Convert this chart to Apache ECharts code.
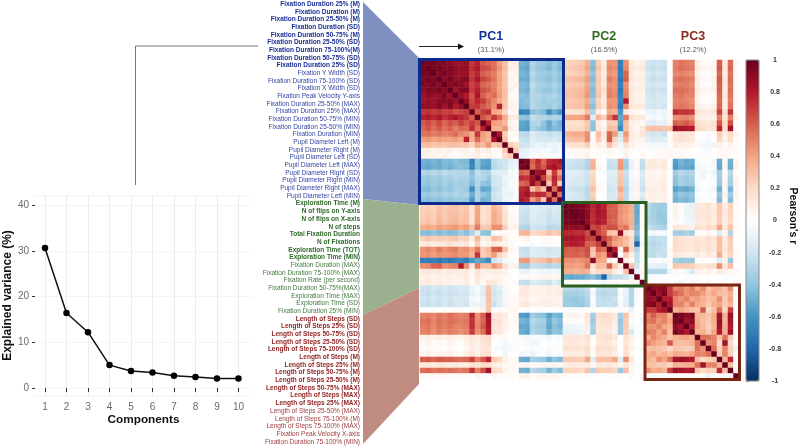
<!DOCTYPE html>
<html>
<head>
<meta charset="utf-8">
<title>PCA loadings</title>
<script src="https://cdn.jsdelivr.net/npm/echarts@6/dist/echarts.min.js"></script>
<style>
html, body { margin: 0; background: #fff; }
#chart { width: 800px; height: 446px; }
</style>
</head>
<body>
<div id="chart"></div>
<script>
const components = [1, 2, 3, 4, 5, 6, 7, 8, 9, 10]
const explained = [30.6, 16.4, 12.2, 5, 3.7, 3.4, 2.7, 2.4, 2.1, 2.1]
const varianceTicks = [0, 10, 20, 30, 40]
const varianceMinor = [5, 15, 25, 35]
const colorbarStops = ['#053061', '#2166AC', '#4393C3', '#92C5DE', '#D1E5F0', '#FFFFFF', '#FDDBC7', '#F4A582', '#D6604D', '#B2182B', '#67001F']

const pc1Labels = [
  'Fixation Duration 25% (M)', 'Fixation Duration (M)', 'Fixation Duration 25-50% (M)', 'Fixation Duration (SD)',
  'Fixation Duration 50-75% (M)', 'Fixation Duration 25-50% (SD)', 'Fixation Duration 75-100%(M)',
  'Fixation Duration 50-75% (SD)', 'Fixation Duration 25% (SD)', 'Fixation Y Width (SD)',
  'Fixation Duration 75-100% (SD)', 'Fixation X Width (SD)', 'Fixation Peak Velocity Y-axis',
  'Fixation Duration 25-50% (MAX)', 'Fixation Duration 25% (MAX)', 'Fixation Duration 50-75% (MIN)',
  'Fixation Duration 25-50% (MIN)', 'Fixation Duration (MIN)', 'Pupil Diameter Left (M)', 'Pupil Diameter Right (M)',
  'Pupil Diameter Left (SD)', 'Pupil Diameter Left (MAX)', 'Pupil Diameter Right (SD)', 'Pupil Diameter Right (MIN)',
  'Pupil Diameter Right (MAX)', 'Pupil Diameter Left (MIN)'
]
const pc2Labels = [
  'Exploration Time (M)', 'N of flips on Y-axis', 'N of flips on X-axis', 'N of steps', 'Total Fixation Duration',
  'N of Fixations', 'Exploration Time (TOT)', 'Exploration Time (MIN)', 'Fixation Duration (MAX)',
  'Fixation Duration 75-100% (MAX)', 'Fixation Rate (per second)', 'Fixation Duration 50-75%(MAX)',
  'Exploration Time (MAX)', 'Exploration Time (SD)', 'Fixation Duration 25% (MIN)'
]
const pc3Labels = [
  'Length of Steps (SD)', 'Length of Steps 25% (SD)', 'Length of Steps 50-75% (SD)', 'Length of Steps 25-50% (SD)',
  'Length of Steps 75-100% (SD)', 'Length of Steps (M)', 'Length of Steps 25% (M)', 'Length of Steps 50-75% (M)',
  'Length of Steps 25-50% (M)', 'Length of Steps 50-75% (MAX)', 'Length of Steps (MAX)', 'Length of Steps 25% (MAX)',
  'Length of Steps 25-50% (MAX)', 'Length of Steps 75-100% (M)', 'Length of Steps 75-100% (MAX)',
  'Fixation Peak Velocity X-axis', 'Fixation Duration 75-100% (MIN)'
]
const boldCounts = [9, 8, 12]

// lower triangle of the correlation matrix, in hundredths
const corrRows = [
  [100],
  [96,100],
  [97,95,100],
  [93,96,92,100],
  [94,92,96,90,100],
  [90,93,92,95,91,100],
  [86,90,88,88,93,85,100],
  [85,88,86,90,90,92,86,100],
  [88,88,86,92,84,93,80,88,100],
  [72,74,70,72,68,70,64,66,70,100],
  [78,80,76,82,74,78,82,76,72,60,100],
  [62,66,60,68,58,64,60,70,62,70,62,100],
  [58,64,56,62,55,60,52,58,56,74,55,78,100],
  [55,56,52,54,50,52,56,48,46,38,72,42,36,100],
  [42,44,40,42,40,40,42,38,78,36,58,40,34,82,100],
  [30,32,28,30,28,30,30,28,28,22,38,32,44,24,30,100],
  [8,10,6,8,6,8,4,6,8,4,12,6,10,3,4,25,100],
  [10,8,6,5,8,4,2,4,5,6,10,4,6,5,2,20,25,100],
  [-48,-50,-46,-50,-44,-46,-42,-44,-45,-68,-40,-52,-54,-26,-22,-20,-12,-10,100],
  [-50,-52,-48,-50,-46,-48,-44,-42,-44,-65,-42,-55,-56,-28,-24,-20,-10,-8,95,100],
  [-30,-32,-28,-32,-26,-30,-28,-30,-28,-42,-24,-30,-32,-15,-14,-12,-4,-3,60,56,100],
  [-36,-38,-34,-36,-32,-34,-30,-32,-32,-40,-28,-30,-36,-20,-18,-8,-6,-2,75,72,85,100],
  [-38,-40,-36,-38,-34,-38,-34,-36,-34,-44,-30,-40,-42,-20,-18,-12,-4,4,58,62,88,70,100],
  [-42,-44,-38,-42,-36,-40,-34,-34,-36,-62,-34,-52,-50,-24,-20,-8,-4,-2,76,80,30,46,28,100],
  [-36,-38,-34,-36,-32,-34,-30,-34,-32,-50,-30,-40,-44,-20,-16,-10,-10,-3,78,85,70,76,74,56,100],
  [-42,-44,-40,-42,-38,-40,-36,-36,-38,-58,-32,-48,-46,-22,-20,-8,-6,-2,82,76,42,56,26,90,55,100],
  [22,25,22,30,24,28,30,26,28,14,38,16,18,34,28,14,4,2,-18,-20,-12,-14,-14,-18,-16,-16,100],
  [24,26,24,30,26,30,30,26,28,15,40,18,20,36,30,15,3,2,-20,-22,-14,-14,-16,-20,-16,-18,97,100],
  [24,28,24,32,26,30,32,28,30,15,40,16,20,38,32,16,5,3,-22,-24,-14,-16,-16,-22,-18,-20,96,97,100],
  [26,30,26,34,28,32,34,30,30,18,42,18,22,38,32,16,4,4,-22,-24,-16,-16,-18,-22,-20,-20,95,96,97,100],
  [36,40,36,42,38,42,44,38,42,30,52,26,28,46,46,24,6,8,-30,-32,-20,-22,-22,-28,-26,-26,90,88,90,88,100],
  [-42,-44,-40,-44,-40,-44,-42,-36,-42,-32,-14,-40,-42,-4,-2,4,2,0,34,36,20,22,24,30,24,28,76,76,74,75,66,100],
  [24,28,24,26,24,26,28,22,24,10,34,10,12,30,26,10,4,2,4,6,-2,0,2,4,0,2,84,84,82,82,70,68,100],
  [10,14,10,14,12,16,12,10,14,2,24,4,6,12,10,6,3,0,0,2,-3,0,-2,2,-2,0,78,80,80,78,60,60,70,100],
  [45,48,44,52,46,50,52,44,46,38,52,26,32,58,60,30,6,4,-22,-24,-14,-16,-16,-20,-16,-18,62,60,62,60,65,30,60,55,100],
  [44,46,42,46,44,46,48,44,44,34,72,24,30,42,22,14,2,2,-20,-22,-14,-16,-16,-18,-16,-18,60,60,60,58,64,26,46,40,80,100],
  [-70,-70,-68,-72,-68,-72,-68,-66,-70,-58,-52,-56,-64,-20,-14,-6,-4,-2,42,44,26,28,30,38,30,34,46,46,44,46,50,90,40,38,10,2,100],
  [46,48,58,60,46,48,50,80,46,14,52,30,30,44,36,18,6,8,-34,-36,-22,-24,-26,-30,-26,-28,42,42,40,42,54,16,32,30,60,26,10,100],
  [12,14,12,14,10,12,12,10,12,6,16,8,10,10,10,8,2,0,-8,-10,-4,-6,-6,-8,-6,-6,36,36,34,36,34,12,20,20,22,10,4,30,100],
  [8,10,6,10,8,10,6,8,12,4,14,6,4,8,6,4,-2,0,4,4,2,4,6,6,4,6,-50,-52,-50,-50,-46,-42,-50,-80,-30,-24,-24,-20,-10,100],
  [10,12,8,10,8,8,6,8,10,3,12,4,12,14,6,4,2,3,-24,-26,-16,-16,-20,-22,-14,-20,2,3,2,2,2,0,-3,-6,2,3,0,3,5,4,100],
  [-20,-22,-18,-20,-18,-20,-18,-16,-18,-8,-4,-12,28,-16,-12,-4,2,0,10,12,6,6,8,10,8,8,-26,-28,-28,-28,-22,-2,-22,-24,-24,-24,-2,-10,-30,-2,2,100],
  [-22,-24,-20,-24,-20,-22,-20,-18,-20,-10,-6,-14,30,-20,-16,-6,2,2,12,12,6,8,8,10,8,10,-34,-34,-34,-32,-28,-6,-26,-28,-26,-26,-4,-10,-30,-4,2,90,100],
  [-20,-22,-18,-22,-18,-20,-16,-16,-18,-6,-4,-10,30,-18,-14,-4,3,4,8,10,4,6,8,8,6,6,-36,-38,-38,-36,-30,-2,-24,-26,-24,-22,-2,-12,-30,-2,0,90,85,100],
  [-22,-24,-20,-22,-18,-22,-18,-16,-20,-8,-8,-12,28,-22,-14,-6,2,2,12,12,8,8,10,10,8,8,-36,-36,-38,-38,-32,-4,-24,-24,-22,-24,-4,-12,-28,-2,2,90,95,80,100],
  [2,0,2,0,2,0,4,2,0,4,2,8,28,2,4,2,4,4,0,2,0,-2,2,0,0,2,-2,-2,0,-2,2,2,0,0,4,2,2,2,-8,0,0,70,70,80,85,100],
  [50,52,48,54,50,56,52,50,52,76,46,60,86,14,14,10,2,4,-56,-58,-36,-40,-42,-54,-46,-48,6,6,6,4,14,-34,18,20,18,12,-34,28,4,2,-4,50,60,50,50,35,100],
  [54,56,50,56,52,56,54,52,54,72,48,58,82,16,16,8,2,4,-46,-50,-28,-32,-34,-50,-38,-44,2,2,2,2,12,-36,14,16,16,10,-38,26,-2,0,-6,52,55,45,50,40,95,100],
  [52,54,48,54,52,54,50,50,52,74,50,62,80,12,14,8,4,2,-52,-52,-32,-36,-36,-52,-42,-46,-8,-8,-8,-6,10,-32,14,14,14,8,-36,26,-6,-2,-2,45,45,50,40,35,90,85,100],
  [50,52,46,52,48,52,50,46,50,70,46,56,80,14,12,6,0,2,-50,-54,-30,-34,-36,-48,-40,-42,-10,-8,-10,-8,8,-36,12,14,12,6,-38,24,-16,-2,-4,52,50,40,50,30,95,90,80,100],
  [8,10,6,10,8,10,8,6,10,14,12,18,20,2,2,4,0,-2,-4,-6,-4,-2,-4,-6,-2,-4,14,14,14,12,18,2,14,16,18,12,0,16,8,2,4,38,48,42,38,28,35,38,40,34,100],
  [4,6,2,4,2,6,4,2,6,12,8,14,18,0,-2,-6,-2,2,-2,-4,-8,-6,0,-2,0,-2,12,14,12,10,14,0,12,14,12,6,2,14,6,0,2,48,42,36,34,62,32,30,32,36,55,100],
  [2,4,-2,2,0,4,2,0,4,10,6,14,14,-4,-4,-6,-4,-2,0,-2,-4,-2,2,-4,-2,-2,16,14,16,14,20,4,18,16,16,12,0,18,8,-2,4,30,32,30,26,20,28,26,24,26,55,46,100],
  [6,8,4,8,6,8,4,4,8,14,8,16,18,2,0,-8,0,0,-6,-4,-8,-4,-2,-6,-2,-4,10,12,10,10,16,2,14,12,14,8,-2,18,4,0,0,36,40,32,36,30,38,36,34,40,50,50,55,100],
  [60,62,58,62,60,60,58,56,58,68,50,62,76,26,22,8,4,4,-50,-52,-34,-36,-38,-48,-40,-44,26,26,26,24,40,-14,30,30,30,38,-12,46,12,0,-2,35,32,46,40,55,84,86,84,80,30,20,24,26,100],
  [12,14,10,14,12,10,12,10,10,18,14,20,20,10,8,4,4,4,4,6,2,4,6,4,6,4,10,12,10,10,12,4,12,10,14,10,6,14,6,-2,2,30,30,26,26,22,35,34,36,36,55,85,50,50,34,100],
  [56,58,54,56,54,56,54,52,54,72,50,64,84,20,18,6,2,2,-48,-50,-28,-32,-34,-46,-36,-42,22,22,22,20,28,-30,26,24,24,22,-38,30,4,-2,0,46,36,40,34,70,86,84,80,86,26,20,24,24,76,30,100],
  [4,2,4,2,4,2,2,4,3,0,6,2,0,6,3,2,2,0,6,8,2,4,6,4,6,4,2,2,2,2,3,2,0,0,2,2,4,0,4,0,6,-2,-4,-2,-4,-2,2,0,2,0,4,2,-10,2,4,-4,3,100]
]

const groups = [pc1Labels, pc2Labels, pc3Labels]
const variables = [].concat(pc1Labels, pc2Labels, pc3Labels)

const styleKeys = []
groups.forEach((list, g) => {
  list.forEach((_, i) => styleKeys.push('g' + g + (i < boldCounts[g] ? 'b' : 'n')))
})

const labelColors = ['#1c2f96', '#2e6b2a', '#8e1f1f']
const labelRich = {}
labelColors.forEach((color, g) => {
  labelRich['g' + g + 'b'] = { color: color, fontWeight: 'bold', fontSize: 6.5, fontFamily: 'Liberation Sans' }
  labelRich['g' + g + 'n'] = { color: color, fontSize: 6.5, opacity: 0.9, fontFamily: 'Liberation Sans' }
})

const cellData = []
corrRows.forEach((row, i) => {
  row.forEach((v, j) => {
    cellData.push([j, i, v / 100])
    if (i !== j) cellData.push([i, j, v / 100])
  })
})

const heatLeft = 420
const heatTop = 60
const cell = 5.5
const font = 'Liberation Sans'

function box (start, count, color) {
  return {
    type: 'rect',
    z: 20,
    shape: {
      x: heatLeft + start * cell - 0.5,
      y: heatTop + start * cell - 0.5,
      width: count * cell + 1,
      height: count * cell + 1
    },
    style: { fill: 'transparent', stroke: color, lineWidth: 3 }
  }
}

function pcTitle (x, name, share, color) {
  return [
    { type: 'text', x: x, y: 37, style: { text: name, fill: color, font: 'bold 12.5px ' + font, align: 'center', verticalAlign: 'middle' } },
    { type: 'text', x: x, y: 50, style: { text: share, fill: '#555', font: '7.5px ' + font, align: 'center', verticalAlign: 'middle' } }
  ]
}

const chart = echarts.init(document.getElementById('chart'), null, { renderer: 'canvas' })

chart.setOption({
  animation: false,
  backgroundColor: '#fff',
  grid: [
    { left: 35, top: 195, width: 217, height: 201 },
    { left: 361, top: 0.2, width: 1, height: 445.4 },
    { left: heatLeft, top: heatTop, width: 58 * cell, height: 58 * cell },
    { left: 746, top: 60, width: 13, height: 321, show: true, borderColor: '#8a8a8a', borderWidth: 1, backgroundColor: 'transparent', z: 10 }
  ],
  xAxis: [
    {
      type: 'value',
      gridIndex: 0,
      min: 0.535,
      max: 10.63,
      axisLine: { show: false },
      axisTick: { show: true, length: 4, customValues: components, lineStyle: { color: '#333' } },
      axisLabel: { customValues: components, color: '#6a6a6a', fontSize: 10, fontFamily: font, margin: 6 },
      splitLine: { show: true, customValues: components, lineStyle: { color: '#ececec', width: 1 } },
      name: 'Components',
      nameLocation: 'middle',
      nameGap: 18,
      nameTextStyle: { color: '#111', fontWeight: 'bold', fontSize: 11.8, fontFamily: font }
    },
    { type: 'value', gridIndex: 1, show: false },
    { type: 'category', gridIndex: 2, show: false, data: variables },
    { type: 'value', gridIndex: 3, show: false }
  ],
  yAxis: [
    {
      type: 'value',
      gridIndex: 0,
      min: -1.75,
      max: 42.19,
      axisLine: { show: false },
      axisTick: { show: true, length: 3, customValues: varianceTicks, lineStyle: { color: '#333' } },
      axisLabel: { customValues: varianceTicks, color: '#6a6a6a', fontSize: 10, fontFamily: font, margin: 6 },
      splitLine: { show: true, customValues: varianceTicks, lineStyle: { color: '#ececec', width: 1 } },
      name: 'Explained variance (%)',
      nameLocation: 'middle',
      nameGap: 21,
      nameTextStyle: { color: '#111', fontWeight: 'bold', fontSize: 12, fontFamily: font }
    },
    {
      type: 'value',
      gridIndex: 0,
      min: -1.75,
      max: 42.19,
      axisLine: { show: false },
      axisTick: { show: false },
      axisLabel: { show: false },
      splitLine: { show: true, customValues: varianceMinor, lineStyle: { color: '#f5f5f5', width: 1 } }
    },
    {
      type: 'category',
      gridIndex: 1,
      inverse: true,
      data: variables,
      axisLine: { show: false },
      axisTick: { show: false },
      splitLine: { show: false },
      axisLabel: {
        interval: 0,
        margin: 1,
        align: 'right',
        formatter: (value, idx) => '{' + styleKeys[idx] + '|' + value + '}',
        rich: labelRich
      }
    },
    { type: 'category', gridIndex: 2, inverse: true, show: false, data: variables },
    {
      type: 'value',
      gridIndex: 3,
      min: -1,
      max: 1,
      interval: 0.2,
      position: 'right',
      axisLine: { show: false },
      axisTick: { show: true, length: 3, lineStyle: { color: '#8a8a8a' } },
      splitLine: { show: false },
      axisLabel: { color: '#333', fontSize: 7, fontWeight: 'bold', fontFamily: font, margin: 16, align: 'center' }
    }
  ],
  visualMap: {
    type: 'continuous',
    seriesIndex: 1,
    min: -1,
    max: 1,
    left: 746,
    top: 60,
    padding: 0,
    itemWidth: 13,
    itemHeight: 321,
    calculable: false,
    showLabel: false,
    text: null,
    inRange: { color: colorbarStops }
  },
  series: [
    {
      type: 'line',
      xAxisIndex: 0,
      yAxisIndex: 0,
      data: components.map((c, i) => [c, explained[i]]),
      symbol: 'circle',
      symbolSize: 6.5,
      itemStyle: { color: '#000' },
      lineStyle: { color: '#111', width: 1.5 }
    },
    {
      type: 'heatmap',
      xAxisIndex: 2,
      yAxisIndex: 3,
      data: cellData,
      itemStyle: { borderWidth: 0 },
      emphasis: { disabled: true }
    }
  ],
  graphic: [].concat(
    [
      { type: 'polygon', shape: { points: [[363, 2], [419, 58], [419, 205], [363, 199]] }, style: { fill: '#7f8fc0' } },
      { type: 'polygon', shape: { points: [[363, 199], [419, 205], [419, 288], [363, 315]] }, style: { fill: '#9bb08f' } },
      { type: 'polygon', shape: { points: [[363, 315], [419, 288], [419, 384], [363, 444]] }, style: { fill: '#c08c82' } },
      { type: 'polyline', shape: { points: [[258, 46], [135.5, 46], [135.5, 185]] }, style: { stroke: '#777', lineWidth: 1, fill: 'none' } },
      { type: 'line', shape: { x1: 419, y1: 46.5, x2: 460, y2: 46.5 }, style: { stroke: '#222', lineWidth: 1 } },
      { type: 'polygon', shape: { points: [[458, 43.5], [464, 46.5], [458, 49.5]] }, style: { fill: '#111' } },
      {
        type: 'text',
        x: 793,
        y: 216,
        rotation: -Math.PI / 2,
        style: { text: "Pearson's r", fill: '#111', font: 'bold 10.5px ' + font, align: 'center', verticalAlign: 'middle' }
      }
    ],
    pcTitle(491, 'PC1', '(31.1%)', '#14329a'),
    pcTitle(604, 'PC2', '(16.5%)', '#2e6b1f'),
    pcTitle(693, 'PC3', '(12.2%)', '#8a2a1a'),
    [
      box(0, 26, '#0c2a8c'),
      box(26, 15, '#2a5e1e'),
      box(41, 17, '#7a2414')
    ]
  )
})

window.addEventListener('resize', () => chart.resize())
</script>
</body>
</html>
